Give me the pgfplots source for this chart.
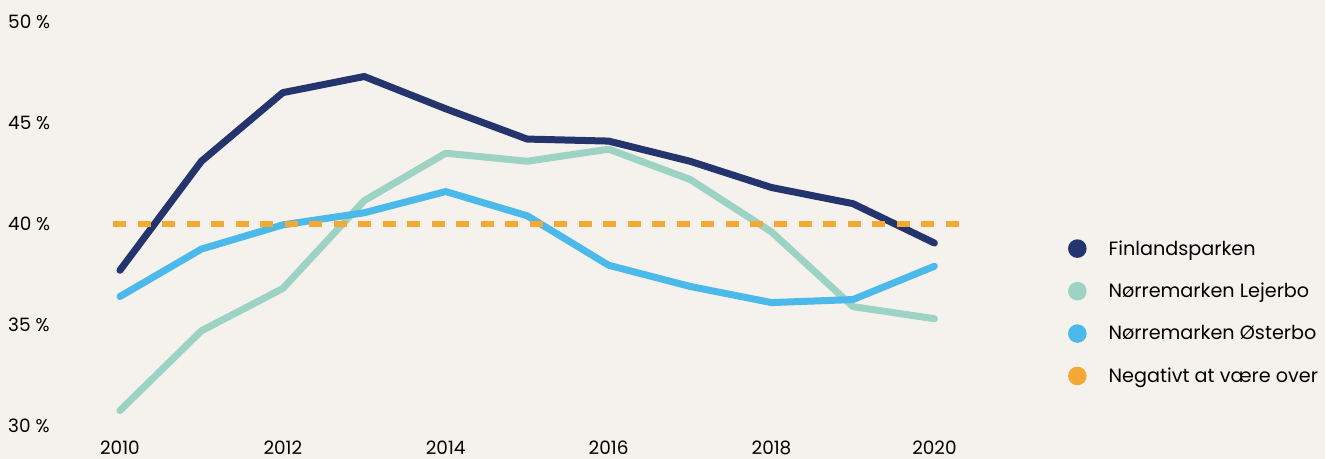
\documentclass[border=0pt]{standalone}
\usepackage{pgfplots}
\pgfplotsset{compat=1.18}
\usepackage{fontspec}
\setmainfont{Poppins}
\definecolor{bg}{HTML}{F5F2ED}
\definecolor{navy}{HTML}{24346C}
\definecolor{mint}{HTML}{9DD3C4}
\definecolor{sky}{HTML}{4BB9EA}
\definecolor{orng}{HTML}{F5A935}
\begin{document}
\begin{tikzpicture}
\fill[bg] (-79.25bp,-33bp) rectangle (1246.75bp,426bp);
\begin{axis}[name=ax, at={(0,0)}, anchor=south west,
  scale only axis, width=896.5bp, height=404bp,
  xmin=2009.5, xmax=2020.5, ymin=30, ymax=50,
  clip=false,
  axis line style={draw=none}, major tick length=0pt,
  xtick={2010,2012,2014,2016,2018,2020},
  xticklabels={2010,2012,2014,2016,2018,2020},
  ytick={30,35,40,45,50},
  yticklabels={30 \%,35 \%,40 \%,45 \%,50 \%},
  tick label style={font=\fontsize{18.5}{20}\selectfont, text=black},
  yticklabel style={anchor=west, xshift=-71.25bp, inner sep=0pt},
  xticklabel style={anchor=north, inner sep=0pt, yshift=-15bp},
  legend style={draw=none, fill=none, at={(1.1035,0.281)}, anchor=west,
    font=\fontsize{19.3}{22}\selectfont, row sep=22.5bp, inner sep=0pt,
    cells={anchor=west}, nodes={inner xsep=8bp},
    /tikz/every odd column/.append style={column sep=14bp}},
  legend image code/.code={\path[fill, draw=none] (9bp,0bp) circle (9.3bp);},
  every axis plot/.append style={line width=7bp, line cap=round, line join=round},
]
\addplot[navy] coordinates {(2010,37.7) (2011,43.1) (2012,46.5) (2013,47.3) (2014,45.7) (2015,44.2) (2016,44.1) (2017,43.1) (2018,41.8) (2019,41.0) (2020,39.05)};
\addlegendentry{Finlandsparken}
\addplot[mint] coordinates {(2010,30.75) (2011,34.7) (2012,36.8) (2013,41.15) (2014,43.5) (2015,43.1) (2016,43.7) (2017,42.2) (2018,39.6) (2019,35.9) (2020,35.3)};
\addlegendentry{Nørremarken Lejerbo}
\addplot[sky] coordinates {(2010,36.4) (2011,38.75) (2012,39.95) (2013,40.55) (2014,41.6) (2015,40.4) (2016,37.95) (2017,36.9) (2018,36.1) (2019,36.25) (2020,37.9)};
\addlegendentry{Nørremarken Østerbo}
\addplot[orng, line width=6bp, line cap=butt, dash pattern=on 13bp off 11.5bp] coordinates {(2009.92,40) (2020.34,40)};
\addlegendentry{Negativt at være over}
\end{axis}
\useasboundingbox (-79.25bp,-33bp) rectangle (1246.75bp,426bp);
\end{tikzpicture}
\end{document}
